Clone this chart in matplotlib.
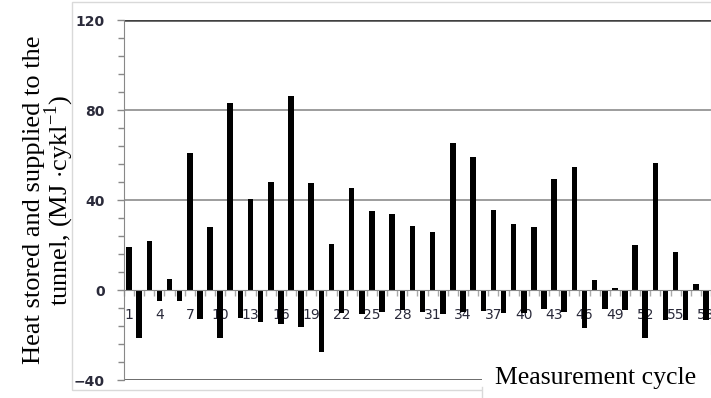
import numpy as np
import matplotlib.pyplot as plt
from matplotlib.patches import Rectangle

plt.rcParams['mathtext.fontset'] = 'custom'
plt.rcParams['mathtext.rm'] = 'Liberation Serif'

# Heat per measurement cycle (odd cycles stored, even cycles supplied)
cycles = np.arange(1, 59)
heat = np.array([19, -21.5, 22, -5, 5, -5, 61, -13, 28, -21.5,
                 83.3, -12.6, 40.5, -14, 48, -15, 86.4, -16.5, 47.4, -27.5,
                 20.6, -10.4, 45.5, -10.7, 35, -9.6, 33.6, -8.9, 28.6, -9.6,
                 25.6, -10.7, 65.2, -9.6, 59.1, -9.3, 35.6, -10, 29.3, -10,
                 28, -8.4, 49.2, -9.6, 54.8, -17, 4.4, -8.4, 0.7, -8.9,
                 19.9, -21.5, 56.6, -13.3, 16.7, -13.3, 2.7, -13.3])
xlabels = [str(c) for c in cycles[::3]]

fig = plt.figure(figsize=(7.11, 3.98), dpi=100)
ax = fig.add_axes([124 / 711, 1 - 380 / 398, 1 - 124 / 711, 360 / 398])
ax.set_axisbelow(True)

ax.bar(cycles, heat, width=0.55, color='black', zorder=2)

ax.set_xlim(0.5, 58.5)
ax.set_ylim(-40, 120)

# y axis: major every 40, minor every 8
ax.set_yticks([-40, 0, 40, 80, 120])
ax.set_yticks(np.arange(-40, 121, 8), minor=True)
ax.tick_params(axis='y', which='major', direction='out', length=5, width=1,
               color='#888888', labelsize=10, labelcolor='#2a2a3a', pad=9)
ax.tick_params(axis='y', which='minor', direction='out', length=4, width=1,
               color='#888888')
for t in ax.get_yticklabels():
    t.set_fontweight('bold')

# x axis crosses at zero, labels every third cycle
ax.spines['bottom'].set_position(('data', 0))
ax.spines['bottom'].set_color('#888888')
ax.set_xticks(cycles[::3])
ax.set_xticklabels(xlabels)
ax.set_xticks(np.arange(0.5, 59, 1), minor=True)
ax.tick_params(axis='x', which='major', length=0, labelsize=10,
               labelcolor='#2a2a3a', pad=13)
ax.tick_params(axis='x', which='minor', direction='out', length=4, width=1,
               color='#aaaaaa')

ax.spines['left'].set_color('#888888')
ax.spines['top'].set_visible(False)
ax.spines['right'].set_color('#d0d0d0')

# horizontal gridlines
for yv in [40, 80]:
    ax.axhline(yv, color='#8c8c8c', lw=1.2, zorder=1)
ax.axhline(120, color='#404040', lw=1.8, zorder=1)
ax.axhline(-40, color='#404040', lw=1.8, zorder=1)

ax.set_ylabel('Heat stored and supplied to the\ntunnel, (MJ $\\cdot$cykl$^{\\mathrm{-1}}$)',
              family='Liberation Serif', fontsize=19,
              linespacing=0.93, labelpad=-2)

# outer chart frame
fig.patches.append(Rectangle((72 / 711, 1 - 390 / 398), 1, 388 / 398,
                             transform=fig.transFigure, fill=False,
                             edgecolor='#d9d9d9', lw=1, zorder=0))

# axis title box over the lower right corner
fig.patches.append(Rectangle((482 / 711, 0), 1, 43 / 398,
                             transform=fig.transFigure, facecolor='white',
                             edgecolor='none', zorder=5))
fig.add_artist(plt.Line2D([482 / 711, 482 / 711], [0, 11 / 398],
                          transform=fig.transFigure, color='#d9d9d9', lw=1,
                          zorder=6))
fig.text(596 / 711, 1 - 378 / 398, 'Measurement cycle', ha='center',
         va='center', fontsize=18.5, family='Liberation Serif', zorder=7)

plt.savefig('out.png', dpi=100)
